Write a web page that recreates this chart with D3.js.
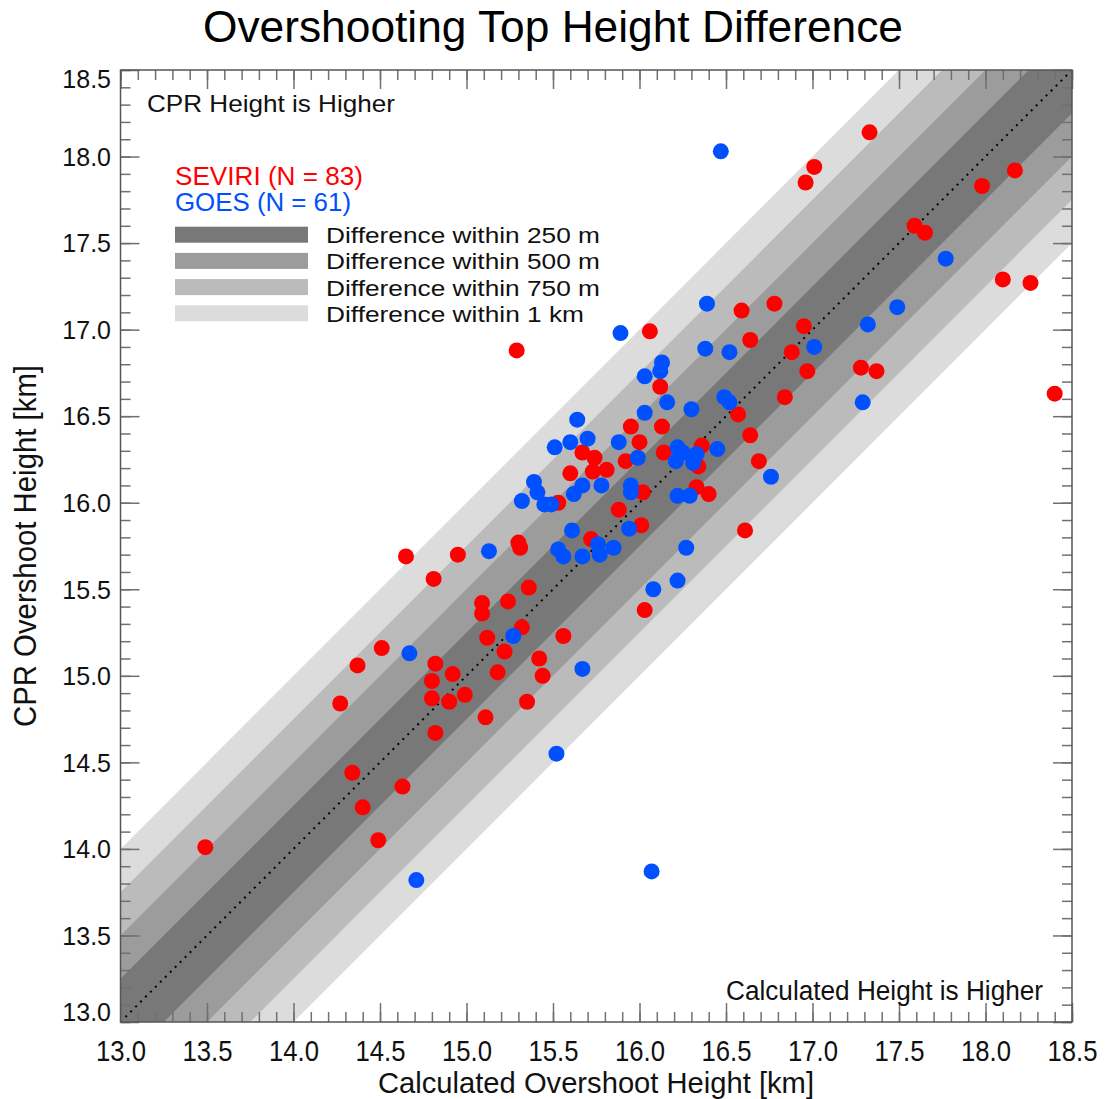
<!DOCTYPE html>
<html>
<head>
<meta charset="utf-8">
<script src="https://cdn.jsdelivr.net/npm/d3@7"></script>
<style>
  body { margin: 0; background: #fff; }
  text { font-family: "Liberation Sans", Arial, sans-serif; }
</style>
</head>
<body>
<svg width="1105" height="1099"></svg>
<script>
// [calculated height, CPR height] in km
let seviri = [
  [13.49, 14.01], [14.27, 14.84], [14.37, 15.06], [14.34, 14.44], [14.40, 14.24],
  [14.51, 15.16], [14.49, 14.05], [14.63, 14.36], [14.65, 15.69], [14.81, 15.56],
  [14.82, 15.07], [14.80, 14.97], [14.80, 14.87], [14.82, 14.67], [14.90, 14.85],
  [14.92, 15.01], [14.99, 14.89], [14.95, 15.70], [15.09, 15.42], [15.09, 15.36],
  [15.12, 15.22], [15.11, 14.76], [15.18, 15.02], [15.22, 15.14], [15.24, 15.43],
  [15.29, 16.88], [15.30, 15.77], [15.31, 15.74], [15.32, 15.28], [15.36, 15.51],
  [15.35, 14.85], [15.42, 15.10], [15.44, 15.00], [15.53, 16.00], [15.56, 15.23],
  [15.60, 16.17], [15.67, 16.29], [15.72, 15.79], [15.74, 16.26], [15.73, 16.18],
  [15.81, 16.19], [15.88, 15.96], [15.92, 16.24], [15.95, 16.44], [16.00, 16.35],
  [16.01, 15.87], [16.02, 16.06], [16.03, 15.38], [16.06, 16.99], [16.12, 16.67],
  [16.13, 16.44], [16.14, 16.29], [16.36, 16.33], [16.34, 16.21], [16.33, 16.09],
  [16.40, 16.05], [16.57, 16.51], [16.59, 17.11], [16.64, 16.94], [16.64, 16.39],
  [16.69, 16.24], [16.61, 15.84], [16.78, 17.15], [16.84, 16.61], [16.88, 16.87],
  [16.95, 17.02], [16.97, 16.76], [16.96, 17.85], [17.01, 17.94], [17.28, 16.78],
  [17.37, 16.76], [17.33, 18.14], [17.59, 17.60], [17.65, 17.56], [17.98, 17.83],
  [18.17, 17.92], [18.10, 17.29], [18.26, 17.27], [18.40, 16.63]
];

let goes = [
  [16.47, 18.03], [17.77, 17.41], [16.39, 17.15], [17.49, 17.13], [17.32, 17.03],
  [15.89, 16.98], [16.38, 16.89], [16.52, 16.87], [17.01, 16.90], [16.13, 16.81],
  [16.12, 16.76], [16.03, 16.73], [16.49, 16.61], [16.52, 16.58], [17.29, 16.58],
  [16.16, 16.58], [16.03, 16.52], [16.30, 16.54], [15.64, 16.48], [15.51, 16.32],
  [15.60, 16.35], [15.70, 16.37], [15.88, 16.35], [16.22, 16.32], [16.25, 16.29],
  [16.33, 16.28], [16.45, 16.31], [16.21, 16.24], [16.31, 16.23], [15.99, 16.26],
  [16.76, 16.15], [15.39, 16.12], [15.41, 16.06], [15.32, 16.01], [15.45, 15.99],
  [15.49, 15.99], [15.62, 16.05], [15.67, 16.10], [15.78, 16.10], [15.95, 16.10],
  [15.95, 16.06], [16.22, 16.04], [16.29, 16.04], [15.61, 15.84], [15.94, 15.85],
  [15.53, 15.73], [15.56, 15.69], [15.67, 15.69], [15.76, 15.76], [15.77, 15.70],
  [15.85, 15.74], [16.27, 15.74], [15.13, 15.72], [16.22, 15.55], [16.08, 15.50],
  [15.27, 15.23], [14.67, 15.13], [15.67, 15.04], [15.52, 14.55], [14.71, 13.82],
  [16.07, 13.87]
];

let bandWidths = [1.0, 0.75, 0.5, 0.25];
let bandColors = ["#dcdcdc", "#bbbbbb", "#9c9c9c", "#787878"];
let bandLabels = ["Difference within 1 km", "Difference within 750 m",
                  "Difference within 500 m", "Difference within 250 m"];
let majorTicks = [13.0, 13.5, 14.0, 14.5, 15.0, 15.5, 16.0, 16.5, 17.0, 17.5, 18.0, 18.5];
let minorTicks = d3.range(130, 186, 1).map(d => d / 10);

let svg = d3.select("svg");
let x = d3.scaleLinear().domain([13, 18.5]).range([120.5, 1072]);
let y = d3.scaleLinear().domain([13, 18.5]).range([1022, 70]);

svg.append("clipPath").attr("id", "plot")
  .append("rect")
    .attr("x", x(13)).attr("y", y(18.5))
    .attr("width", x(18.5) - x(13)).attr("height", y(13) - y(18.5));

let plot = svg.append("g").attr("clip-path", "url(#plot)");

// tolerance bands around the 1:1 line
let band = w => d3.line()([[x(12), y(12 - w)], [x(19.5), y(19.5 - w)],
                           [x(19.5), y(19.5 + w)], [x(12), y(12 + w)]]) + "Z";
plot.selectAll(".band")
  .data(bandWidths)
  .enter().append("path")
    .attr("class", "band")
    .attr("d", band)
    .style("fill", (d, i) => bandColors[i]);

plot.append("line")
    .attr("x1", x(13)).attr("y1", y(13))
    .attr("x2", x(18.5)).attr("y2", y(18.5))
    .style("stroke", "#000")
    .style("stroke-width", 2)
    .style("stroke-dasharray", "2,5");

plot.selectAll(".sev")
  .data(seviri)
  .enter().append("circle")
    .attr("class", "sev")
    .attr("cx", d => x(d[0])).attr("cy", d => y(d[1]))
    .attr("r", 8)
    .style("fill", "#ff0000");

plot.selectAll(".goes")
  .data(goes)
  .enter().append("circle")
    .attr("class", "goes")
    .attr("cx", d => x(d[0])).attr("cy", d => y(d[1]))
    .attr("r", 8)
    .style("fill", "#0050ff");

// axes: minor ticks, then major ticks with labels
let fmt = d3.format(".1f");
let axes = [
  [d3.axisBottom(x), "translate(0," + y(13) + ")", "xaxis"],
  [d3.axisTop(x), "translate(0," + y(18.5) + ")", null],
  [d3.axisLeft(y), "translate(" + x(13) + ",0)", "yaxis"],
  [d3.axisRight(y), "translate(" + x(18.5) + ",0)", null]
];
axes.forEach(([axis, tr, cls]) => {
  let gm = svg.append("g").attr("transform", tr)
    .call(axis.tickValues(minorTicks).tickSize(-10).tickFormat(""));
  gm.select(".domain").remove();
  let g = svg.append("g").attr("transform", tr).attr("class", cls)
    .call(axis.tickValues(majorTicks).tickSize(-19)
      .tickPadding(cls ? 9.5 : 0)
      .tickFormat(cls ? fmt : ""));
  g.select(".domain").remove();
  g.selectAll("text").style("font-family", "'Liberation Sans', Arial, sans-serif");
});
svg.selectAll(".tick line").style("stroke", "#707070").style("stroke-width", 1.5);

svg.select(".xaxis").selectAll("text")
    .attr("y", 18).style("font-size", "30px").style("fill", "#111")
    .attr("textLength", 50).attr("lengthAdjust", "spacingAndGlyphs");

svg.select(".yaxis").selectAll("text")
    .style("font-size", "25px").style("fill", "#111")
    .attr("dy", d => d === 18.5 ? "0.7em" : d === 13.0 ? "-0.05em" : "0.35em");

svg.append("rect")
    .attr("x", x(13)).attr("y", y(18.5))
    .attr("width", x(18.5) - x(13)).attr("height", y(13) - y(18.5))
    .style("fill", "none").style("stroke", "#555").style("stroke-width", 1.5);

// titles
svg.append("text")
    .attr("x", 553).attr("y", 42)
    .attr("textLength", 700).attr("lengthAdjust", "spacingAndGlyphs")
    .style("text-anchor", "middle").style("font-size", "44px").style("fill", "#000")
    .text("Overshooting Top Height Difference");

svg.append("text")
    .attr("x", 596).attr("y", 1093)
    .attr("textLength", 436).attr("lengthAdjust", "spacingAndGlyphs")
    .style("text-anchor", "middle").style("font-size", "30px").style("fill", "#111")
    .text("Calculated Overshoot Height [km]");

svg.append("text")
    .attr("transform", "translate(36,546) rotate(-90)")
    .attr("textLength", 362).attr("lengthAdjust", "spacingAndGlyphs")
    .style("text-anchor", "middle").style("font-size", "31px").style("fill", "#111")
    .text("CPR Overshoot Height [km]");

svg.append("text")
    .attr("x", 147).attr("y", 112)
    .attr("textLength", 248).attr("lengthAdjust", "spacingAndGlyphs")
    .style("font-size", "24px").style("fill", "#111")
    .text("CPR Height is Higher");

svg.append("text")
    .attr("x", 1043).attr("y", 1000)
    .attr("textLength", 317).attr("lengthAdjust", "spacingAndGlyphs")
    .style("text-anchor", "end").style("font-size", "27px").style("fill", "#111")
    .text("Calculated Height is Higher");

// legend
svg.append("text")
    .attr("x", 175).attr("y", 185)
    .style("font-size", "25px").style("fill", "#ff0000")
    .attr("textLength", 188).attr("lengthAdjust", "spacingAndGlyphs")
    .text("SEVIRI (N = 83)");
svg.append("text")
    .attr("x", 175).attr("y", 211)
    .style("font-size", "25px").style("fill", "#0050ff")
    .attr("textLength", 176).attr("lengthAdjust", "spacingAndGlyphs")
    .text("GOES (N = 61)");

let legend = svg.selectAll(".leg")
  .data(bandLabels.slice().reverse())
  .enter().append("g")
    .attr("class", "leg")
    .attr("transform", (d, i) => "translate(175," + (234.7 + i * 26.2) + ")");
legend.append("rect")
    .attr("x", 0).attr("y", -8)
    .attr("width", 133).attr("height", 16)
    .style("fill", (d, i) => bandColors[bandColors.length - 1 - i]);
legend.append("text")
    .attr("x", 151).attr("y", 8.5)
    .attr("textLength", d => d.length === 22 ? 258 : 274)
    .attr("lengthAdjust", "spacingAndGlyphs")
    .style("font-size", "22.5px").style("fill", "#111")
    .text(d => d);
</script>
</body>
</html>
